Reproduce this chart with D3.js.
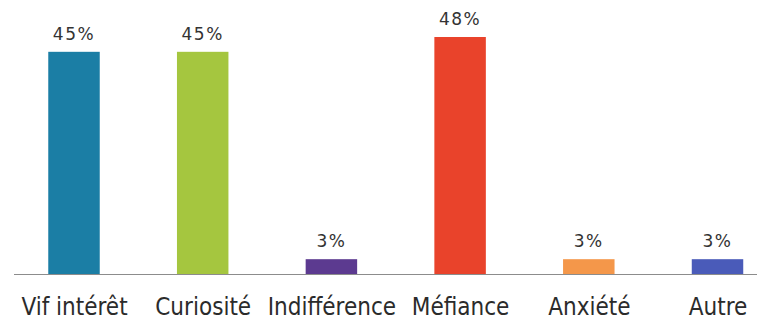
<!DOCTYPE html>
<html>
<head>
<meta charset="utf-8">
<script src="https://cdn.jsdelivr.net/npm/d3@7"></script>
<style>
  html, body { margin: 0; padding: 0; background: #ffffff; }
  svg { display: block; }
  text { font-family: "DejaVu Sans", Verdana, sans-serif; }
</style>
</head>
<body>
<svg id="chart" width="769" height="321"></svg>
<script>
// Réactions déclarées (en % des répondants)
const categories = ["Vif intérêt", "Curiosité", "Indifférence", "Méfiance", "Anxiété", "Autre"];
const values = [45, 45, 3, 48, 3, 3];
const colors = ["#1b7ea5", "#a5c63f", "#5c3a90", "#e9432b", "#f4974a", "#4a5bb9"];

const W = 769, H = 321;
const baseline = 274;
const svg = d3.select("#chart");

// Bar centres sit on a point scale; bars take 40 % of the step
const x = d3.scalePoint().domain(categories).range([74, 717.5]);
const barW = x.step() * 0.4;

const y = d3.scaleLinear().domain([0, 48]).range([baseline, 37]);

svg.selectAll("rect.bar")
  .data(categories)
  .join("rect")
  .attr("class", "bar")
  .attr("x", (d) => x(d) - barW / 2)
  .attr("width", barW)
  .attr("y", (d, i) => y(values[i]))
  .attr("height", (d, i) => baseline - y(values[i]))
  .attr("fill", (d, i) => colors[i]);

// Category axis: a thin line with labels below, no ticks
const axis = d3.axisBottom(x).tickSize(0).tickPadding(0);
const gx = svg.append("g").attr("transform", `translate(0,${baseline})`).call(axis);
gx.select(".domain").remove();
gx.append("line")
  .attr("x1", 14).attr("x2", 757)
  .attr("y1", 0.5).attr("y2", 0.5)
  .attr("stroke", "#8c8c8c").attr("stroke-width", 1);
gx.selectAll(".tick text")
  .attr("dy", null)
  .attr("y", 41)
  .attr("fill", "#2b2b2b")
  .style("font-size", "24px")
  .style("font-stretch", "condensed")
  .style("font-family", "'DejaVu Sans Condensed', 'DejaVu Sans', Verdana, sans-serif");

// Value labels above each bar
svg.selectAll("text.val")
  .data(categories)
  .join("text")
  .attr("class", "val")
  .attr("x", (d) => x(d))
  .attr("y", (d, i) => y(values[i]) - 12)
  .attr("text-anchor", "middle")
  .attr("fill", "#333333")
  .style("font-size", "17px")
  .style("letter-spacing", "1.5px")
  .text((d, i) => values[i] + "%");
</script>
</body>
</html>
